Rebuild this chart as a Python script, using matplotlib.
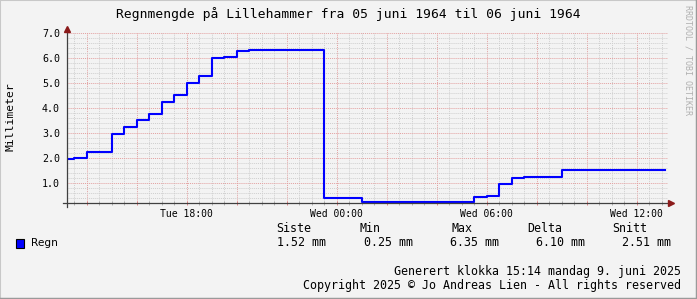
import matplotlib
matplotlib.use('Agg')
import matplotlib.pyplot as plt
from matplotlib.ticker import MultipleLocator, FuncFormatter
from matplotlib.patches import Rectangle
from matplotlib.lines import Line2D

# Regnmengde, timer regnet fra tirsdag 00:00 (steg hver halvtime)
hours = [13.21, 13.5, 14.0, 15.0, 15.5, 16.0, 16.5, 17.0, 17.5, 18.0, 18.5, 19.0,
         19.5, 20.0, 20.5, 23.5, 25.0, 29.5, 30.0, 30.5, 31.0, 31.5, 33.0, 37.13]
regn_mm = [1.98, 2.02, 2.26, 2.98, 3.26, 3.52, 3.78, 4.27, 4.53, 5.02, 5.30, 6.01,
           6.06, 6.29, 6.35, 0.41, 0.25, 0.45, 0.50, 0.96, 1.23, 1.27, 1.52]

time_labels = {18: 'Tue 18:00', 24: 'Wed 00:00', 30: 'Wed 06:00', 36: 'Wed 12:00'}

stat_names = ['Siste', 'Min', 'Max', 'Delta', 'Snitt']
stat_values = ['1.52 mm', '0.25 mm', '6.35 mm', '6.10 mm', '2.51 mm']

title = 'Regnmengde på Lillehammer fra 05 juni 1964 til 06 juni 1964'
footer1 = 'Generert klokka 15:14 mandag 9. juni 2025'
footer2 = 'Copyright 2025 © Jo Andreas Lien - All rights reserved'

W, H = 697, 299
bg = '#f3f3f3'
mono = 'DejaVu Sans Mono'


def fx(x):
    return x / W


def fy(y):
    return 1 - y / H


fig = plt.figure(figsize=(W / 100, H / 100), dpi=100, facecolor=bg)

# plot-område: x 67..668 px, y 33.3..203.3 px
ax = fig.add_axes([fx(67), fy(203.3), (668 - 67) / W, 170 / H], facecolor=bg)

ax.step(hours, regn_mm + [regn_mm[-1]], where='post', color='#0000ff', lw=1.5, zorder=5)

ax.set_xlim(13.21, 37.25)
ax.set_ylim(0.2, 7.0)

ax.xaxis.set_major_locator(MultipleLocator(2))
ax.xaxis.set_minor_locator(MultipleLocator(0.5))
ax.yaxis.set_major_locator(MultipleLocator(1))
ax.yaxis.set_minor_locator(MultipleLocator(0.2))
ax.xaxis.set_major_formatter(FuncFormatter(lambda v, p: time_labels.get(int(round(v)), '')))
ax.yaxis.set_major_formatter(FuncFormatter(lambda v, p: '%.1f' % v if v >= 1 else ''))

ax.grid(which='minor', color='#cfcfcf', linestyle=(0, (1, 1)), lw=0.7)
ax.grid(which='major', color='#e3a0a0', linestyle=(0, (1, 1)), lw=0.7)
ax.set_axisbelow(True)

for s in ax.spines.values():
    s.set_visible(False)

ax.tick_params(axis='x', which='major', direction='inout', length=3.5, width=0.7,
               color='#e08080', pad=2, labelsize=7)
ax.tick_params(axis='x', which='minor', direction='inout', length=3.5, width=0.7,
               color='#b0b0b0')
ax.tick_params(axis='y', which='both', length=0, pad=5, labelsize=7.2)
for lab in ax.get_xticklabels() + ax.get_yticklabels():
    lab.set_fontfamily(mono)

# akser med piler
axc = '#404040'
ax.add_line(Line2D([-0.0067, 1.004], [0, 0], transform=ax.transAxes, color=axc,
                   lw=0.9, clip_on=False, zorder=6))
ax.add_line(Line2D([0, 0], [-0.022, 1.025], transform=ax.transAxes, color=axc,
                   lw=0.9, clip_on=False, zorder=6))
ax.plot([1.005], [0], marker='>', ms=4.5, color='#8b1a1a', transform=ax.transAxes,
        clip_on=False, zorder=7)
ax.plot([0], [1.028], marker='^', ms=4.5, color='#8b1a1a', transform=ax.transAxes,
        clip_on=False, zorder=7)

# tekster
fig.text(0.5, fy(14), title, ha='center', va='center', fontsize=9.4, family=mono)
fig.text(fx(11), fy(117), 'Millimeter', rotation=90, ha='center', va='center',
         fontsize=8.2, family=mono)
fig.text(fx(688), fy(60), 'RRDTOOL / TOBI OETIKER', rotation=270, ha='center',
         va='center', fontsize=6, family=mono, color='#b0b0b0')

# legende
fig.patches.append(Rectangle((fx(15.5), fy(247.5)), 8.5 / W, 8.5 / H, transform=fig.transFigure,
                             facecolor='#0000ff', edgecolor='black', lw=0.8))
fig.text(fx(30.5), fy(243), 'Regn', ha='left', va='center', fontsize=7.6, family='DejaVu Sans')

name_x = [276, 360, 451, 527, 612]
value_x = [277, 364, 450, 536, 622]
for nm, vl, nx, vx in zip(stat_names, stat_values, name_x, value_x):
    fig.text(fx(nx), fy(229), nm, ha='left', va='center', fontsize=8.4, family=mono)
    fig.text(fx(vx), fy(243), vl, ha='left', va='center', fontsize=8.4, family=mono)

fig.text(fx(681), fy(271), footer1, ha='right', va='center', fontsize=8.4, family=mono)
fig.text(fx(681), fy(285), footer2, ha='right', va='center', fontsize=8.4, family=mono)

# ramme
fig.add_artist(Line2D([0, 0], [0, 1], transform=fig.transFigure, color='#c8c8c8', lw=1.5))
fig.add_artist(Line2D([0, 1], [1, 1], transform=fig.transFigure, color='#c8c8c8', lw=1.5))
fig.add_artist(Line2D([1, 1], [0, 1], transform=fig.transFigure, color='#9a9a9a', lw=2.5))
fig.add_artist(Line2D([0, 1], [0, 0], transform=fig.transFigure, color='#9a9a9a', lw=2.5))

fig.savefig('out.png', dpi=100, facecolor=bg)
